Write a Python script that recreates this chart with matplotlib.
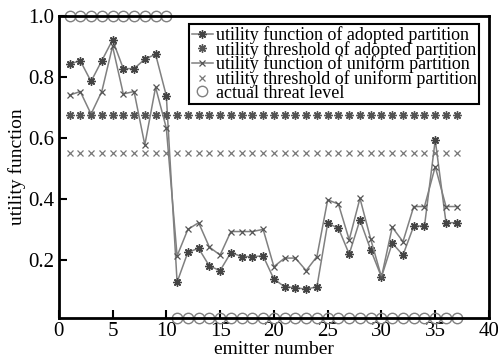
import matplotlib.pyplot as plt
import numpy as np

plt.rcParams['font.family'] = ['Liberation Serif', 'DejaVu Serif']

# emitter index
emitters = np.arange(1, 38)

# utility function values
adopted = [0.842, 0.853, 0.785, 0.853, 0.921, 0.827, 0.827, 0.858, 0.874, 0.738,
           0.127, 0.225, 0.238, 0.180, 0.165, 0.224, 0.211, 0.211, 0.213, 0.137,
           0.112, 0.109, 0.104, 0.112, 0.320, 0.304, 0.219, 0.331, 0.233, 0.144,
           0.255, 0.216, 0.311, 0.311, 0.593, 0.322, 0.322]
uniform = [0.740, 0.752, 0.678, 0.752, 0.900, 0.744, 0.752, 0.577, 0.766, 0.632,
           0.213, 0.300, 0.322, 0.242, 0.216, 0.293, 0.293, 0.293, 0.300, 0.178,
           0.206, 0.206, 0.165, 0.211, 0.397, 0.383, 0.266, 0.402, 0.268, 0.144,
           0.307, 0.260, 0.375, 0.375, 0.506, 0.375, 0.375]
thr_adopted = 0.675
thr_uniform = 0.55
# actual threat: high for the first 10 emitters, low for the rest
threat = [1.0] * 10 + [0.01] * 27

gray = '#808080'
fig = plt.figure(figsize=(4.98, 3.6), dpi=100)
ax = fig.add_axes([0.118, 0.117, 0.864, 0.839])

ax.plot(emitters, adopted, color=gray, lw=1.1, marker=(8, 2, 0), ms=6,
        mec='#444444', mew=1.0, label='utility function of adopted partition')
ax.plot(emitters, [thr_adopted] * len(emitters), ls='none', marker=(8, 2, 0),
        ms=6, mec='#555555', mew=1.0, label='utility threshold of adopted partition')
ax.plot(emitters, uniform, color=gray, lw=1.1, marker='x', ms=5,
        mec='#555555', mew=0.9, label='utility function of uniform partition')
ax.plot(emitters, [thr_uniform] * len(emitters), ls='none', marker='x', ms=5,
        mec='#777777', mew=0.9, label='utility threshold of uniform partition')
ax.plot(emitters, threat, ls='none', marker='o', ms=7.5, mfc='none', mec=gray,
        mew=1.0, clip_on=False, label='actual threat level')

ax.set_xlim(0, 40)
ax.set_ylim(0.01, 1.0)
ax.set_xticks(range(0, 41, 5))
ax.set_yticks([0.2, 0.4, 0.6, 0.8, 1.0])
ax.set_yticklabels(['0.2', '0.4', '0.6', '0.8', '1.0'])
ax.tick_params(direction='in', length=6, width=1.5, labelsize=15, pad=3,
               top=False, right=False)
for s in ax.spines.values():
    s.set_linewidth(2)
ax.set_xlabel('emitter number', fontsize=14, labelpad=0)
ax.set_ylabel('utility function', fontsize=14, labelpad=2)

leg = ax.legend(loc='upper right', bbox_to_anchor=(0.977, 0.973), fontsize=13,
                fancybox=False, framealpha=1, edgecolor='black',
                handlelength=1.2, borderpad=0.12, labelspacing=-0.18,
                handletextpad=0.15, borderaxespad=0)
leg.get_frame().set_linewidth(1.5)

fig.savefig('out.png', dpi=100)
